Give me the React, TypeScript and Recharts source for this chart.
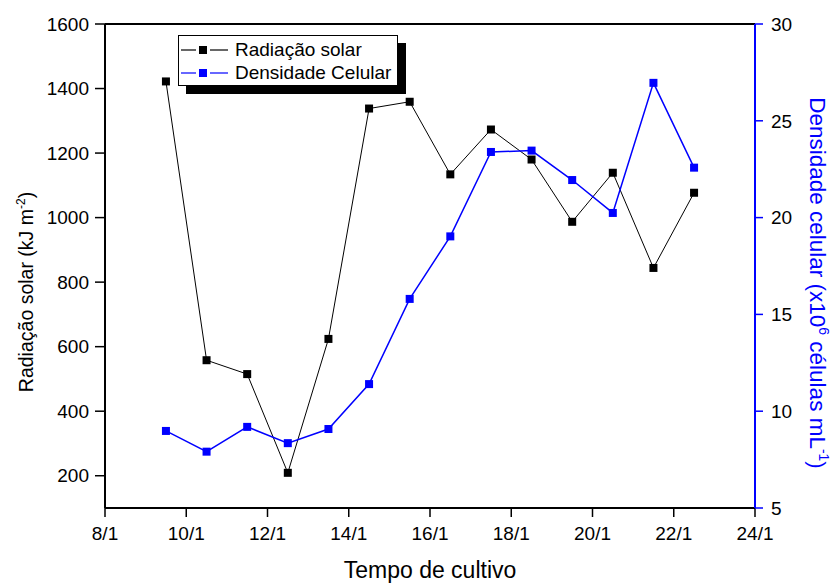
import React from 'react';
import { ComposedChart, Line, XAxis, YAxis, Legend, ReferenceLine, Label } from 'recharts';

const FONT = '"Liberation Sans", Arial, sans-serif';

const DAYS = [9.5, 10.5, 11.5, 12.5, 13.5, 14.5, 15.5, 16.5, 17.5, 18.5, 19.5, 20.5, 21.5, 22.5];
const RADIACAO = [1422, 558, 515, 209, 624, 1338, 1359, 1134, 1273, 1180, 987, 1139, 844, 1077];
const DENSIDADE = [8.98, 7.91, 9.19, 8.35, 9.08, 11.4, 15.8, 19.03, 23.39, 23.46, 21.94, 20.24, 26.96, 22.58];

const X_TICKS = [8, 10, 12, 14, 16, 18, 20, 22, 24];
const LEFT_TICKS = [200, 400, 600, 800, 1000, 1200, 1400, 1600];
const RIGHT_TICKS = [5, 10, 15, 20, 25, 30];

const SERIES = [
  { name: 'Radiação solar', color: '#000000' },
  { name: 'Densidade Celular', color: '#0000ff' }
];

const data = DAYS.map((day, i) => ({ day, radiacao: RADIACAO[i], densidade: DENSIDADE[i] }));

const squareDot = (color: string) => (props: any) => {
  const { cx, cy, index } = props;
  if (cx == null || cy == null) return <g key={`e-${index}`} />;
  return <rect key={`d-${color}-${index}`} x={cx - 4} y={cy - 4} width={8} height={8} fill={color} />;
};

const renderLegend = () => (
  <div
    style={{
      width: 220,
      boxSizing: 'border-box',
      border: '1px solid #000',
      background: '#fff',
      boxShadow: '8px 8px 0 #000',
      padding: '2px 0 1px 2px',
      fontFamily: FONT,
      fontSize: 19,
      color: '#000'
    }}
  >
    {SERIES.map((s) => (
      <div key={s.name} style={{ display: 'flex', alignItems: 'center', height: 23 }}>
        <svg width={48} height={10} style={{ display: 'block' }}>
          <line x1={0} x2={15} y1={5} y2={5} stroke={s.color} strokeWidth={1.2} />
          <rect x={18} y={1} width={8} height={8} fill={s.color} />
          <line x1={29} x2={47} y1={5} y2={5} stroke={s.color} strokeWidth={1.2} />
        </svg>
        <span style={{ marginLeft: 6, whiteSpace: 'nowrap' }}>{s.name}</span>
      </div>
    ))}
  </div>
);

const LeftTitle = () => (
  <text x={0} y={0} transform="translate(33, 292) rotate(-90)" textAnchor="middle" fontSize={19.5} fontFamily={FONT} fill="#000">
    Radiação solar (kJ m<tspan dy={-8} fontSize={12}>-2</tspan>
    <tspan dy={8}>)</tspan>
  </text>
);

const RightTitle = () => (
  <text x={0} y={0} transform="translate(810, 283) rotate(90)" textAnchor="middle" fontSize={22.5} fontFamily={FONT} fill="#0000ff">
    Densidade celular (x10<tspan dy={-9} fontSize={14}>6</tspan>
    <tspan dy={9}> células mL</tspan>
    <tspan dy={-9} fontSize={14}>-1</tspan>
    <tspan dy={9}>)</tspan>
  </text>
);

const BottomTitle = () => (
  <text x={430} y={578} textAnchor="middle" fontSize={23} fontFamily={FONT} fill="#000">
    Tempo de cultivo
  </text>
);

export default function App() {
  return (
    <div style={{ width: 833, height: 583, fontFamily: FONT, background: '#fff' }}>
      <style>{'body{margin:0}'}</style>
      <ComposedChart width={833} height={583} data={data} margin={{ top: 24, right: 0, bottom: 0, left: 0 }}>
        <XAxis
          dataKey="day"
          type="number"
          domain={[8, 24]}
          ticks={X_TICKS}
          tickFormatter={(v) => `${v}/1`}
          height={75}
          tickSize={9}
          tickMargin={10}
          tick={{ fill: '#000', fontSize: 19, fontFamily: FONT }}
          axisLine={{ stroke: '#000', strokeWidth: 2 }}
          tickLine={{ stroke: '#000', strokeWidth: 1.5 }}
        >
          <Label content={() => <BottomTitle />} />
        </XAxis>
        <YAxis
          yAxisId="left"
          domain={[100, 1600]}
          ticks={LEFT_TICKS}
          width={105}
          tickSize={10}
          tickMargin={6}
          tick={{ fill: '#000', fontSize: 19, fontFamily: FONT }}
          axisLine={{ stroke: '#000', strokeWidth: 2 }}
          tickLine={{ stroke: '#000', strokeWidth: 1.5 }}
        >
          <Label content={() => <LeftTitle />} />
        </YAxis>
        <YAxis
          yAxisId="right"
          orientation="right"
          domain={[5, 30]}
          ticks={RIGHT_TICKS}
          width={78}
          tickSize={8}
          tickMargin={8}
          tick={{ fill: '#000', fontSize: 19, fontFamily: FONT }}
          axisLine={{ stroke: '#0000ff', strokeWidth: 2 }}
          tickLine={{ stroke: '#0000ff', strokeWidth: 1.5 }}
        >
          <Label content={() => <RightTitle />} />
        </YAxis>
        <ReferenceLine yAxisId="left" y={1600} stroke="#000" strokeWidth={2} />
        <Legend
          layout="vertical"
          align="center"
          verticalAlign="middle"
          content={renderLegend}
          wrapperStyle={{ top: 35, left: 178, width: 'auto' }}
        />
        <Line
          yAxisId="left"
          dataKey="radiacao"
          name={SERIES[0].name}
          stroke={SERIES[0].color}
          strokeWidth={1}
          dot={squareDot(SERIES[0].color)}
          activeDot={false}
          isAnimationActive={false}
        />
        <Line
          yAxisId="right"
          dataKey="densidade"
          name={SERIES[1].name}
          stroke={SERIES[1].color}
          strokeWidth={1.5}
          dot={squareDot(SERIES[1].color)}
          activeDot={false}
          isAnimationActive={false}
        />
      </ComposedChart>
    </div>
  );
}
